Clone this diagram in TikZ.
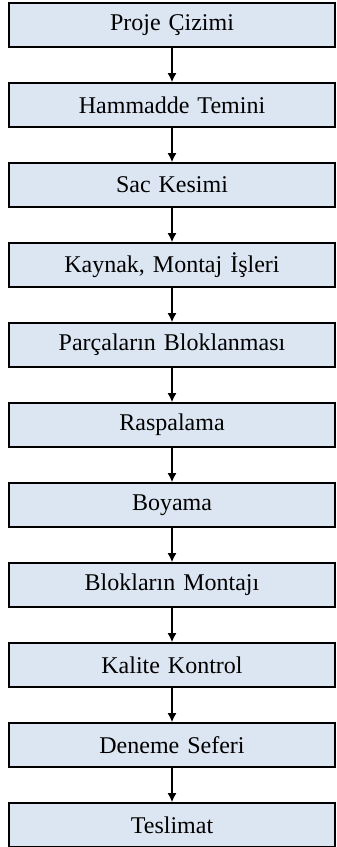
\documentclass[tikz,border=0pt]{standalone}
\usepackage{fontspec}
\setmainfont{Liberation Serif}
\usepackage{tikz}
\usetikzlibrary{positioning}
\usetikzlibrary{arrows.meta}
\definecolor{boxblue}{HTML}{DCE6F2}
\tikzstyle{stage} = [rectangle, draw=black, line width=0.8pt, fill=boxblue,
text width=158pt, text centered, minimum width=163pt, minimum height=22pt, inner sep=0pt, font=\fontsize{12}{14}\selectfont]
\tikzstyle{line} = [draw, line width=0.75pt, -{Latex[length=4.5pt, width=4.5pt]}]

\begin{document}
\begin{tikzpicture}[node distance = 40pt, auto]
			\useasboundingbox (-86pt,12.5pt) rectangle (82.5pt,-411pt);
			\node [stage] (proje) {Proje Çizimi};
			\node [stage, below of= proje](hammadde){Hammadde Temini};
			\node [stage, below of= hammadde](sac){Sac Kesimi};
			\node [stage, below of = sac](kaynak){Kaynak, Montaj İşleri};
			\node [stage, below of = kaynak](parca){Parçaların Bloklanması};
			\node [stage, below of = parca](raspa){Raspalama};
			\node [stage, below of = raspa](boya){Boyama};
			\node [stage, below of = boya](blok){Blokların Montajı};
			\node [stage, below of = blok](kalite){Kalite Kontrol};
			\node [stage, below of = kalite](deneme){Deneme Seferi};
			\node [stage, below of = deneme](teslim){Teslimat};
			\path [line] (proje) -- (hammadde);
			\path [line] (hammadde) -- (sac);
			\path [line] (sac) -- (kaynak);
			\path [line] (kaynak) -- (parca);
			\path [line] (parca) -- (raspa);
			\path [line] (raspa) -- (boya);
			\path [line] (boya) -- (blok);
			\path [line] (blok) -- (kalite);
			\path [line] (kalite) -- (deneme);
			\path [line] (deneme) -- (teslim);

			\end{tikzpicture}
\end{document}
